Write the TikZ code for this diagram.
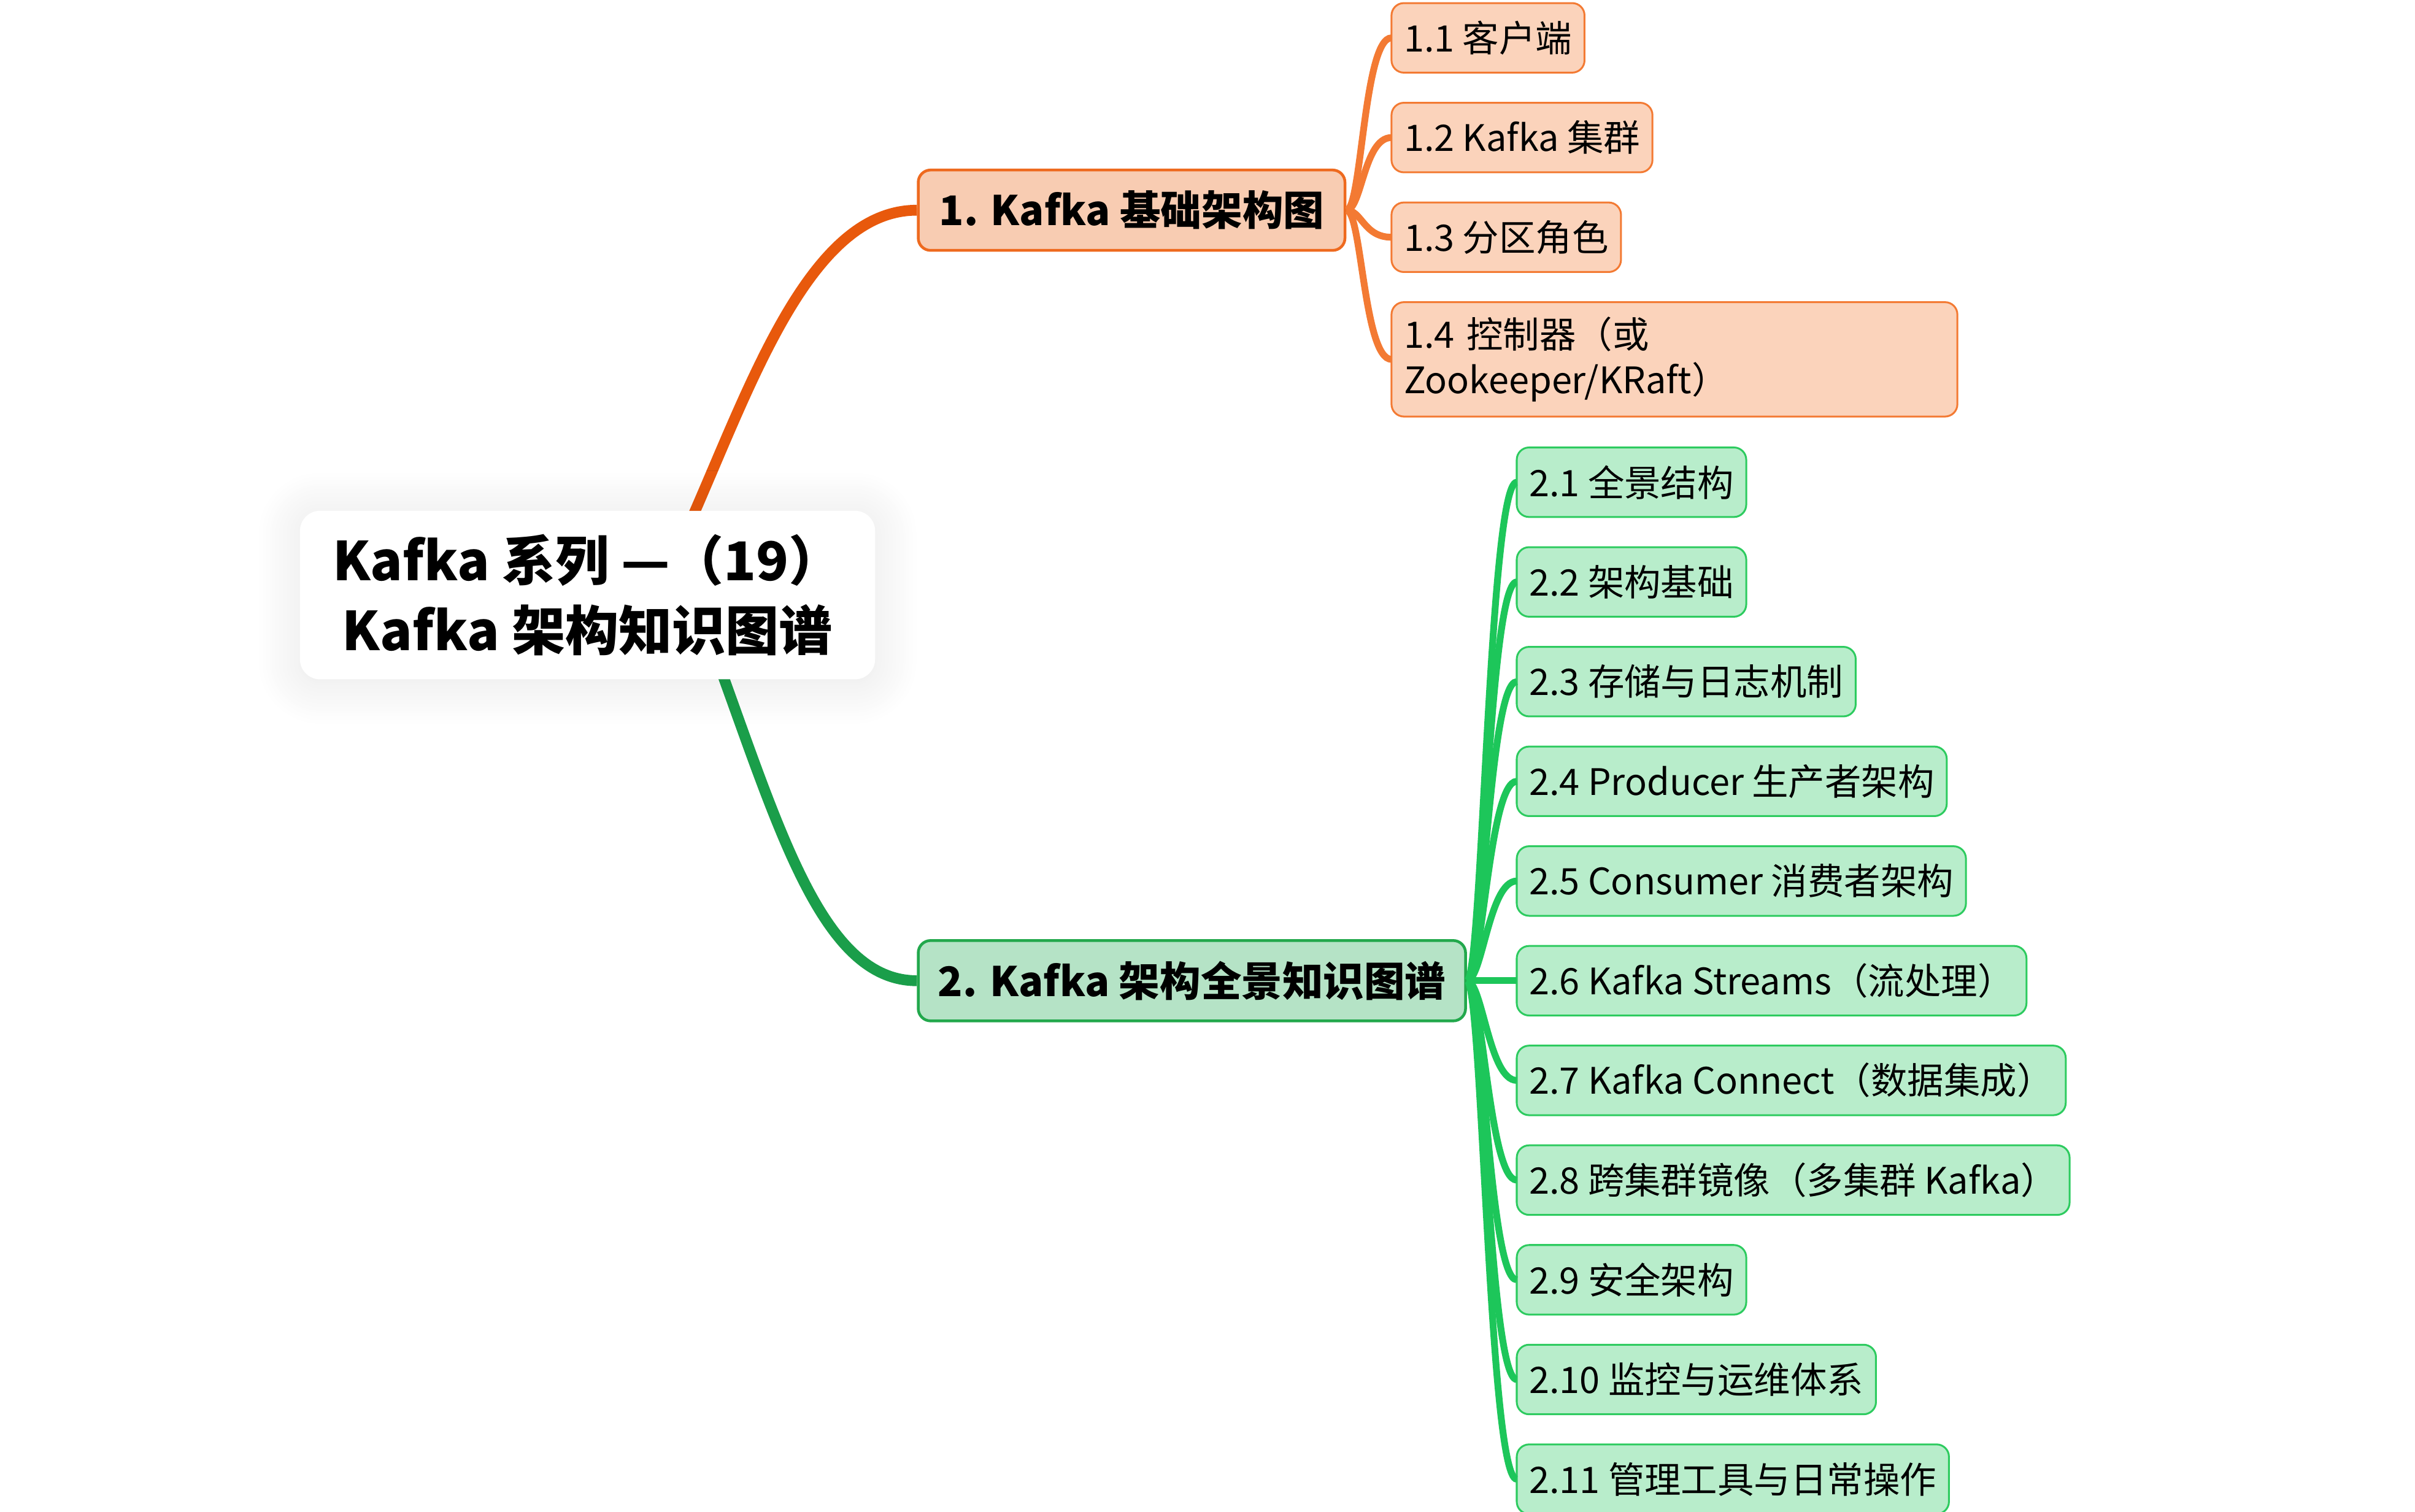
\documentclass[tikz,border=0pt]{standalone}
\usepackage{fontspec}
\setmainfont{Noto Sans CJK SC}
\usetikzlibrary{calc,positioning,shadows.blur}

\definecolor{trunkorange}{HTML}{E8590C}
\definecolor{topicoline}{HTML}{EE6A1F}
\definecolor{topicofill}{HTML}{F8CCB2}
\definecolor{leafoline}{HTML}{F37A33}
\definecolor{leafofill}{HTML}{FBD3BB}
\definecolor{trunkgreen}{HTML}{1A9E4A}
\definecolor{topicgline}{HTML}{22A84C}
\definecolor{topicgfill}{HTML}{B5E3C6}
\definecolor{leafgline}{HTML}{2DCB5F}
\definecolor{leafgfill}{HTML}{B8EDCB}
\definecolor{branchgreen}{HTML}{1DC65A}

\tikzset{
  rootbox/.style={fill=white,rounded corners=6.5pt,minimum width=186pt,
    minimum height=54.5pt,align=center,inner sep=0pt,
    font=\bfseries\fontsize{17.3}{22.5}\selectfont,
    blur shadow={shadow xshift=0pt,shadow yshift=-1pt,shadow blur steps=24,
      shadow blur radius=14pt,shadow opacity=10}},
  topic/.style={rounded corners=4pt,anchor=west,line width=0.9pt,
    minimum height=26pt,inner xsep=5pt,inner ysep=1pt,
    font=\bfseries\fontsize{13.2}{16}\selectfont},
  topicA/.style={topic,draw=topicoline,fill=topicofill,minimum width=138pt},
  topicB/.style={topic,draw=topicgline,fill=topicgfill,minimum width=177pt},
  leaf/.style={rounded corners=4pt,line width=0.6pt,minimum height=22.5pt,
    inner xsep=4pt,inner ysep=1pt,outer sep=0pt,align=left,
    font=\fontsize{11.8}{14.5}\selectfont},
  leafA/.style={leaf,draw=leafoline,fill=leafofill},
  leafB/.style={leaf,draw=leafgline,fill=leafgfill},
  trunk/.style={line width=3.5pt},
  twig/.style={line width=2.2pt}
}

\begin{document}
\begin{tikzpicture}[x=0.5pt,y=-0.5pt]
\useasboundingbox (0,0) rectangle (1562,978);

% main topics
\node[topicA] (b1) at (593,136) {1. Kafka 基础架构图};
\node[topicB] (b2) at (593,634.5) {2. Kafka 架构全景知识图谱};

% subtopics of 1
\node[leafA,anchor=west] (a1) at (900,24.5) {1.1 客户端};
\node[leafA,below=9.75pt of a1.south west,anchor=north west] (a2) {1.2 Kafka 集群};
\node[leafA,below=9.75pt of a2.south west,anchor=north west] (a3) {1.3 分区角色};
\node[leafA,below=9.75pt of a3.south west,anchor=north west,
      text width=175pt,minimum height=37pt] (a4) {1.4 控制器（或\\Zookeeper/KRaft）};

% subtopics of 2
\node[leafB,anchor=west] (g1) at (981,312) {2.1 全景结构};
\node[leafB,below=9.75pt of g1.south west,anchor=north west] (g2) {2.2 架构基础};
\node[leafB,below=9.75pt of g2.south west,anchor=north west] (g3) {2.3 存储与日志机制};
\node[leafB,below=9.75pt of g3.south west,anchor=north west] (g4) {2.4 Producer 生产者架构};
\node[leafB,below=9.75pt of g4.south west,anchor=north west] (g5) {2.5 Consumer 消费者架构};
\node[leafB,below=9.75pt of g5.south west,anchor=north west] (g6) {2.6 Kafka Streams（流处理）};
\node[leafB,below=9.75pt of g6.south west,anchor=north west] (g7) {2.7 Kafka Connect（数据集成）};
\node[leafB,below=9.75pt of g7.south west,anchor=north west] (g8) {2.8 跨集群镜像（多集群 Kafka）};
\node[leafB,below=9.75pt of g8.south west,anchor=north west] (g9) {2.9 安全架构};
\node[leafB,below=9.75pt of g9.south west,anchor=north west] (g10) {2.10 监控与运维体系};
\node[leafB,below=9.75pt of g10.south west,anchor=north west] (g11) {2.11 管理工具与日常操作};

% connectors
\foreach \c in {a1,a2,a3,a4}
  \draw[twig,leafoline] (b1.east) .. controls +(10,0) and +(-18,0) .. (\c.west);
\foreach \c in {g1,g2,g3,g4,g5,g6,g7,g8,g9,g10,g11}
  \draw[twig,branchgreen] (b2.east) .. controls +(10,0) and +(-18,0) .. (\c.west);

\coordinate (up) at (445,341);
\coordinate (down) at (465,430);
\draw[trunk,trunkorange] (up) .. controls +(40,-90) and +(-70,0) .. (b1.west);
\draw[trunk,trunkgreen] (down) .. controls +(40,110) and +(-60,0) .. (b2.west);

% central topic
\node[rootbox] (root) at (380,385) {Kafka 系列 —（19）\\Kafka 架构知识图谱};

\end{tikzpicture}
\end{document}
